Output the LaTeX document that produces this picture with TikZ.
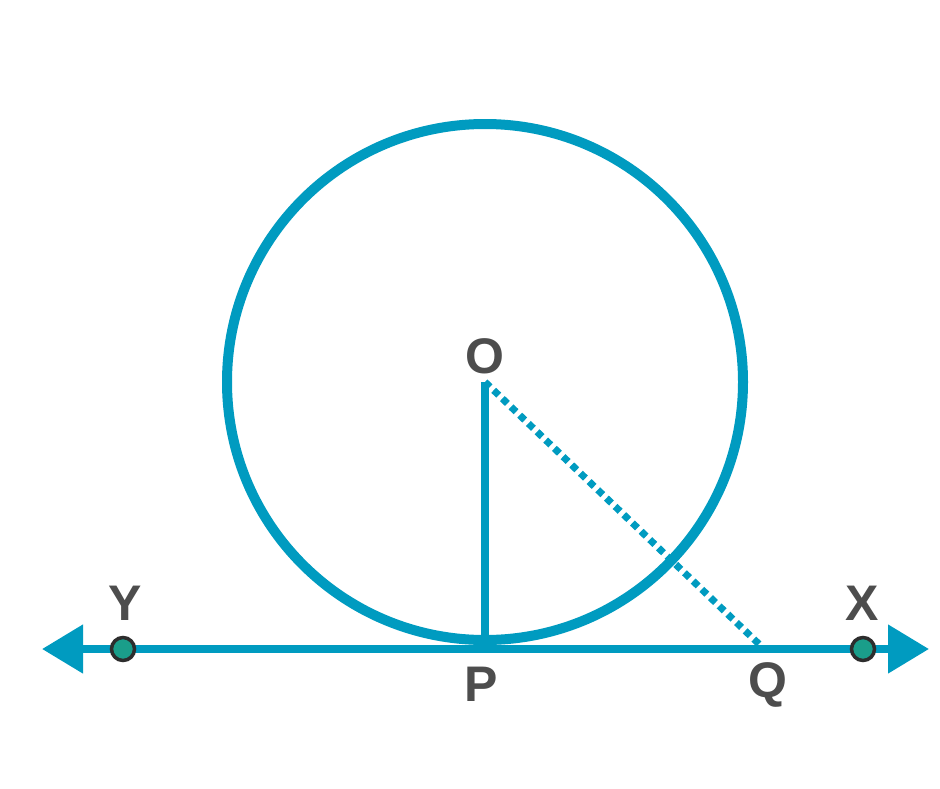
\documentclass[tikz,border=0pt]{standalone}
\usepackage{fontspec}
\setmainfont{Liberation Sans}
\usetikzlibrary{arrows.meta}
\definecolor{cblue}{RGB}{0,155,192}
\definecolor{lblgray}{RGB}{77,77,77}
\definecolor{dotteal}{RGB}{26,158,138}
\definecolor{dotedge}{RGB}{45,45,45}
\begin{document}
\begin{tikzpicture}[x=1pt,y=-1pt,
  lbl/.style={text=lblgray,font=\fontsize{50}{50}\selectfont\bfseries,inner sep=0pt},
  ptdot/.style={circle,fill=dotteal,draw=dotedge,line width=3.5pt,minimum size=23pt,inner sep=0pt},
  bluestroke/.style={draw=cblue,line width=8pt}]
\useasboundingbox (0,0) rectangle (940,788);
\coordinate (O) at (485,382);
\coordinate (P) at (485,649);
\coordinate (Q) at (761,646);
\coordinate (L) at (42,649);
\coordinate (R) at (929,649);
% circle
\draw[draw=cblue,line width=10pt] (O) circle (258);
% tangent line with arrows
\draw[bluestroke,-{Triangle[length=41pt,width=47pt,fill=cblue]}] (P) -- (R);
\draw[bluestroke,-{Triangle[length=41pt,width=47pt,fill=cblue]}] (P) -- (L);
% radius OP
\draw[bluestroke] (O) -- (P);
% dotted OQ
\draw[draw=cblue,line width=7pt,dash pattern=on 7pt off 5pt] (O) -- (Q);
% points
\node[ptdot] (Y) at (123,649) {};
\node[ptdot] (X) at (863,649) {};
% labels
\node[lbl] (Ol) at (485,356) {O};
\node[lbl] (Pl) at (481,684) {P};
\node[lbl] (Ql) at (768,685) {Q};
\node[lbl] (Yl) at (125,603) {Y};
\node[lbl] (Xl) at (862,603) {X};
\end{tikzpicture}
\end{document}
